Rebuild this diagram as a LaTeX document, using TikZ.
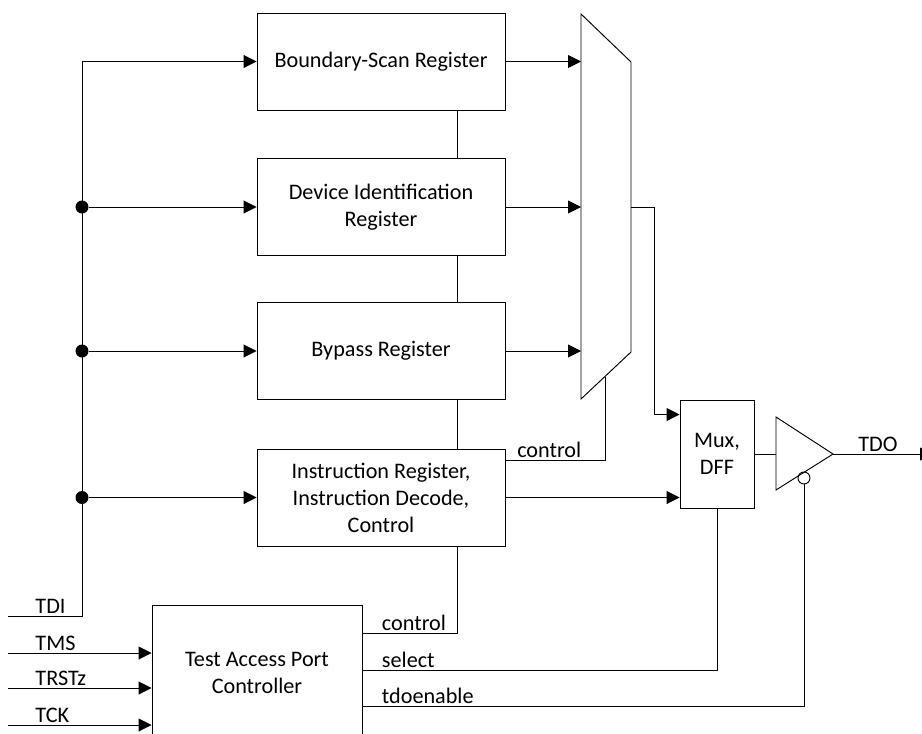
\documentclass[tikz,border=0pt]{standalone}
\usepackage{fontspec}
\setmainfont{Carlito}
\usetikzlibrary{positioning, arrows.meta}
\tikzstyle{register}=[draw, rectangle, minimum width=248pt, minimum height=97pt, align=center, inner sep=0pt]
\tikzstyle{junction}=[fill, circle, minimum size=13pt, inner sep=0pt]
\tikzstyle{wire}=[line width=0.95pt]
\tikzstyle{signal}=[wire, -{Triangle[length=13pt, width=13pt]}]
\tikzstyle{sigLabel}=[inner sep=2pt]

\begin{document}
\begin{tikzpicture}[x=1pt, y=-1pt, line width=0.95pt, font=\fontsize{22.2}{27}\selectfont]
        \useasboundingbox (0,0) rectangle (922,734);

        % registers
        \node[register] (bsr) at (381, 61.5) {Boundary-Scan Register};
        \node[register] (devid) at (381, 207) {Device Identification\\Register};
        \node[register] (bypass) at (381, 351) {Bypass Register};
        \node[register] (instr) at (381, 497.5) {Instruction Register,\\Instruction Decode,\\Control};
        \node[register, minimum width=210pt, minimum height=135pt] (tap) at (257, 672.5) {Test Access Port\\Controller};
        \node[register, minimum width=74pt, minimum height=108pt] (dff) at (717, 454) {Mux,\\DFF};

        % mux
        \coordinate (muxTL) at (581, 14);
        \coordinate (muxTR) at (631, 62);
        \coordinate (muxBR) at (631, 352);
        \coordinate (muxBL) at (581, 399);
        \coordinate (muxOut) at (631, 207);
        \coordinate (muxCtl) at (605, 376.5);
        \draw (muxTL) -- (muxTR) -- (muxBR) -- (muxBL) -- cycle;

        % output buffer
        \coordinate (bufTop) at (776, 417);
        \coordinate (bufBot) at (776, 490);
        \coordinate (bufTip) at (833, 454);
        \draw (bufTop) -- (bufTip) -- (bufBot) -- cycle;
        \node[draw, circle, minimum size=12pt, inner sep=0pt] (bubble) at (804, 478) {};

        % inputs
        \coordinate (tdiIn) at (8, 616);
        \coordinate (tdiTop) at (82, 61.5);
        \coordinate (tmsIn) at (8, 653);
        \coordinate (trstIn) at (8, 688);
        \coordinate (tckIn) at (8, 725);
        \coordinate (tdoOut) at (933, 454);

        \node[junction] (j1) at (82, 207) {};
        \node[junction] (j2) at (82, 351) {};
        \node[junction] (j3) at (82, 497.5) {};

        \draw[wire] (tdiIn) -- node[sigLabel, pos=0, anchor=south west, xshift=25pt] {TDI} (tdiIn -| tdiTop) -- (tdiTop);
        \draw[signal] (tdiTop) -- (bsr.west);
        \draw[signal] (j1) -- (devid.west);
        \draw[signal] (j2) -- (bypass.west);
        \draw[signal] (j3) -- (instr.west);

        \draw[signal] (tmsIn) -- node[sigLabel, pos=0, anchor=south west, xshift=25pt] {TMS} (tap.west |- tmsIn);
        \draw[signal] (trstIn) -- node[sigLabel, pos=0, anchor=south west, xshift=25pt] {TRSTz} (tap.west |- trstIn);
        \draw[signal] (tckIn) -- node[sigLabel, pos=0, anchor=south west, xshift=25pt] {TCK} (tap.west |- tckIn);

        % scan chain links
        \draw[wire] ([xshift=76pt]bsr.south) -- ([xshift=76pt]devid.north);
        \draw[wire] ([xshift=76pt]devid.south) -- ([xshift=76pt]bypass.north);
        \draw[wire] ([xshift=76pt]bypass.south) -- ([xshift=76pt]instr.north);

        % into the mux
        \draw[signal] (bsr.east) -- (muxTL |- bsr.east);
        \draw[signal] (devid.east) -- (muxTL |- devid.east);
        \draw[signal] (bypass.east) -- (muxTL |- bypass.east);
        \draw[wire] ([yshift=-12pt]instr.north east) -| node[sigLabel, above, pos=0.22] {control} (muxCtl);

        % mux, dff and buffer
        \draw[signal] (muxOut) -| ([xshift=-25pt, yshift=-15pt]dff.north west) -- ([yshift=-15pt]dff.north west);
        \draw[signal] (instr.east) -- (dff.west |- instr.east);
        \draw[wire] (dff.east) -- (bufTop |- dff.east);
        \draw[signal] (bufTip) -- node[sigLabel, above, xshift=-5pt] {TDO} (tdoOut);

        % controller outputs
        \draw[wire] ([yshift=-29pt]tap.north east) -| node[sigLabel, pos=0, anchor=south west, xshift=17pt] {control} ([xshift=76pt]instr.south);
        \draw[wire] ([yshift=-66pt]tap.north east) -| node[sigLabel, pos=0, anchor=south west, xshift=17pt] {select} (dff.south);
        \draw[wire] ([yshift=-102pt]tap.north east) -| node[sigLabel, pos=0, anchor=south west, xshift=17pt] {tdoenable} (bubble.south);

    \end{tikzpicture}
\end{document}
